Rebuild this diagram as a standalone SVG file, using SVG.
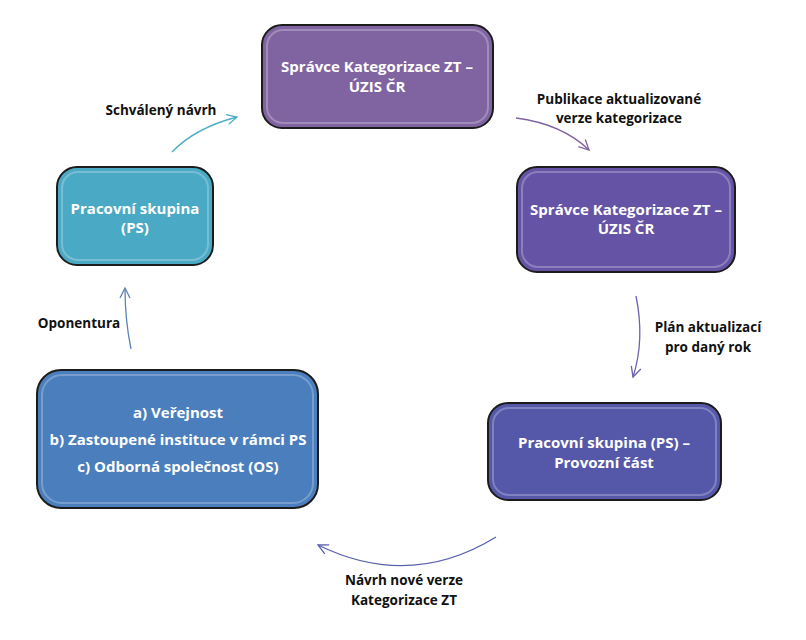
<svg xmlns="http://www.w3.org/2000/svg" width="806" height="640" viewBox="0 0 806 640">
<defs>
<style>
.box{stroke:#1c1c1c;stroke-width:2}
.gloss{fill:none;stroke:#ffffff;stroke-opacity:0.25;stroke-width:2}
.nt{font-family:"Open Sans",Lato,"Liberation Sans",sans-serif;font-weight:bold;font-size:15px;fill:#ffffff;text-anchor:middle}
.lt{font-family:"Open Sans",Lato,"Liberation Sans",sans-serif;font-weight:bold;font-size:13.5px;fill:#111111;text-anchor:middle}
.con{fill:none;stroke-width:1.3}
</style>
<marker id="mTeal" viewBox="0 0 12 12" refX="11" refY="6" markerWidth="12" markerHeight="12" markerUnits="userSpaceOnUse" orient="auto"><path d="M1,1 L11,6 L1,11" fill="none" stroke="#4bacc6" stroke-width="1.3"/></marker>
<marker id="mPurple" viewBox="0 0 12 12" refX="11" refY="6" markerWidth="12" markerHeight="12" markerUnits="userSpaceOnUse" orient="auto"><path d="M1,1 L11,6 L1,11" fill="none" stroke="#8064a2" stroke-width="1.3"/></marker>
<marker id="mViolet" viewBox="0 0 12 12" refX="11" refY="6" markerWidth="12" markerHeight="12" markerUnits="userSpaceOnUse" orient="auto"><path d="M1,1 L11,6 L1,11" fill="none" stroke="#6e62ae" stroke-width="1.3"/></marker>
<marker id="mIndigo" viewBox="0 0 12 12" refX="11" refY="6" markerWidth="12" markerHeight="12" markerUnits="userSpaceOnUse" orient="auto"><path d="M1,1 L11,6 L1,11" fill="none" stroke="#5a62b0" stroke-width="1.3"/></marker>
<marker id="mBlue" viewBox="0 0 12 12" refX="11" refY="6" markerWidth="12" markerHeight="12" markerUnits="userSpaceOnUse" orient="auto"><path d="M1,1 L11,6 L1,11" fill="none" stroke="#5b83b8" stroke-width="1.3"/></marker>
</defs>
<rect width="806" height="640" fill="#ffffff"/>

<g id="connectors">
<path class="con" d="M172,152 Q195,128 237,117" stroke="#4bacc6" marker-end="url(#mTeal)"/>
<path class="con" d="M516,118 Q562,124 589,150" stroke="#8064a2" marker-end="url(#mPurple)"/>
<path class="con" d="M636,296 Q645,340 633,377" stroke="#6e62ae" marker-end="url(#mViolet)"/>
<path class="con" d="M496,537 Q410,590 318,545" stroke="#5a62b0" marker-end="url(#mIndigo)"/>
<path class="con" d="M131,349 Q125,320 125,288" stroke="#5b83b8" marker-end="url(#mBlue)"/>
</g>

<g id="labels">
<text class="lt" x="161" y="115">Schválený návrh</text>
<text class="lt" x="619" y="104">Publikace aktualizované</text>
<text class="lt" x="619" y="123">verze kategorizace</text>
<text class="lt" x="708" y="332">Plán aktualizací</text>
<text class="lt" x="708" y="352">pro daný rok</text>
<text class="lt" x="79" y="328">Oponentura</text>
<text class="lt" x="404" y="585">Návrh nové verze</text>
<text class="lt" x="404" y="605">Kategorizace ZT</text>
</g>

<g id="node-top">
<rect class="box" x="262" y="25" width="231" height="103" rx="20" fill="#8064a2"/>
<rect class="gloss" x="267" y="30" width="221" height="93" rx="16"/>
<text class="nt" x="377" y="72">Správce Kategorizace ZT –</text>
<text class="nt" x="377" y="92">ÚZIS ČR</text>
</g>

<g id="node-right">
<rect class="box" x="517" y="167" width="218" height="105" rx="20" fill="#6554a6"/>
<rect class="gloss" x="522" y="172" width="208" height="95" rx="16"/>
<text class="nt" x="626" y="215">Správce Kategorizace ZT –</text>
<text class="nt" x="626" y="234">ÚZIS ČR</text>
</g>

<g id="node-bottom-right">
<rect class="box" x="488" y="403" width="233" height="97" rx="20" fill="#5558a8"/>
<rect class="gloss" x="493" y="408" width="223" height="87" rx="16"/>
<text class="nt" x="604" y="448">Pracovní skupina (PS) –</text>
<text class="nt" x="604" y="468">Provozní část</text>
</g>

<g id="node-bottom-left">
<rect class="box" x="37" y="370" width="281" height="138" rx="24" fill="#4b7ebd"/>
<rect class="gloss" x="42" y="375" width="271" height="128" rx="20"/>
<text class="nt" x="178" y="418">a) Veřejnost</text>
<text class="nt" x="178" y="445">b) Zastoupené instituce v rámci PS</text>
<text class="nt" x="178" y="472">c) Odborná společnost (OS)</text>
</g>

<g id="node-left">
<rect class="box" x="57" y="167" width="156" height="98" rx="20" fill="#4aa9c4"/>
<rect class="gloss" x="62" y="172" width="146" height="88" rx="16"/>
<text class="nt" x="135" y="214">Pracovní skupina</text>
<text class="nt" x="135" y="233">(PS)</text>
</g>
</svg>
